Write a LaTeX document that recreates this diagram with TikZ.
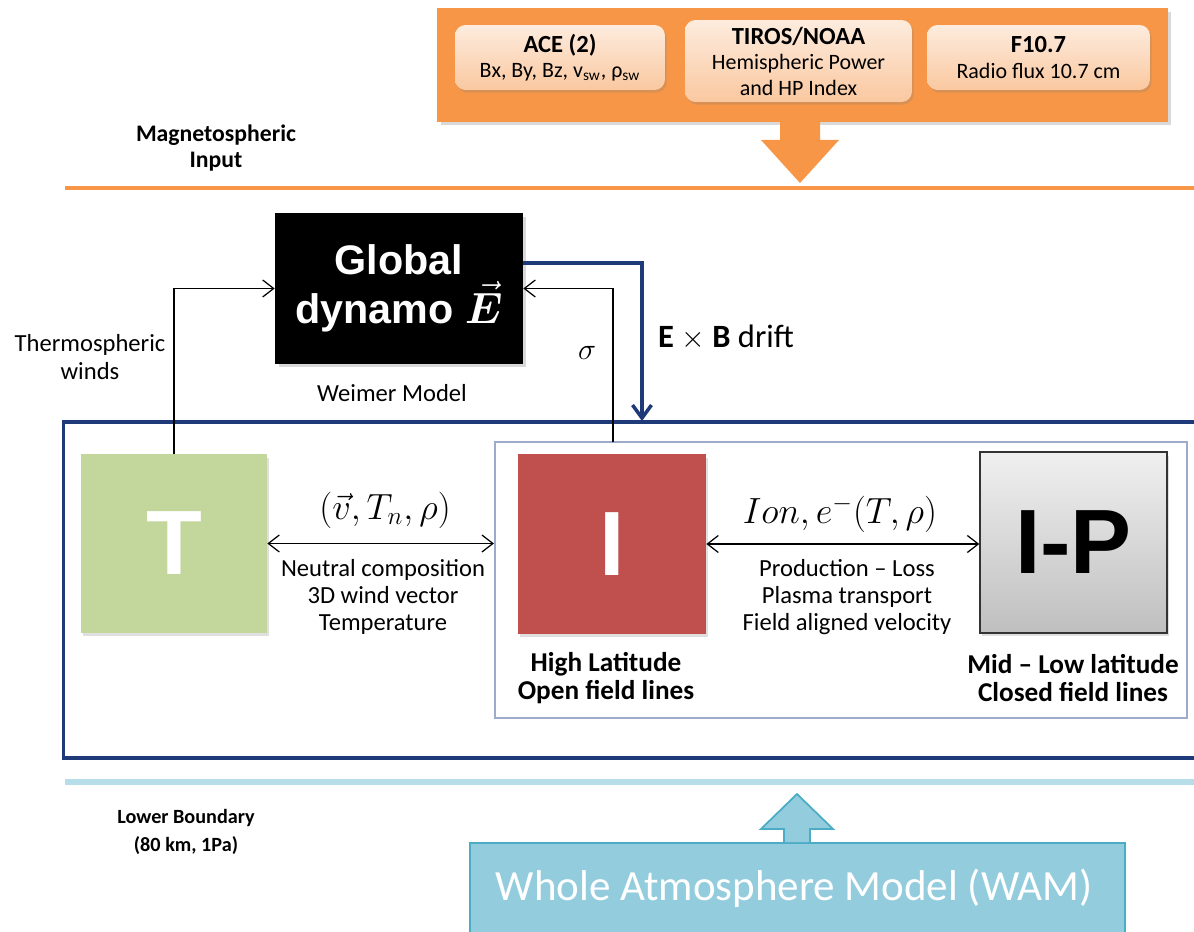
\documentclass[tikz,border=0pt]{standalone}
\usepackage{fontspec}
\usepackage{bm}
\setmainfont{Carlito}
\newfontfamily\arialfont{Liberation Sans}
\usetikzlibrary{arrows.meta,shadows}

\definecolor{orangeA}{HTML}{F79646}
\definecolor{peach}{HTML}{FAC8A0}
\definecolor{navyA}{HTML}{1F3A78}
\definecolor{frameB}{HTML}{9DAACB}
\definecolor{greenT}{HTML}{C3D69B}
\definecolor{redI}{HTML}{C0504D}
\definecolor{skyline}{HTML}{B7DDE8}
\definecolor{wamfill}{HTML}{93CDDD}
\definecolor{wamedge}{HTML}{4BACC6}

\tikzset{
  inbox/.style={rounded corners=6pt,top color=peach!35,bottom color=peach,align=center,font=\fontsize{12.5}{14.5}\selectfont,drop shadow={opacity=0.25,shadow xshift=1pt,shadow yshift=-1.5pt}},
  bigletter/.style={font=\arialfont\bfseries\fontsize{52}{52}\selectfont,inner sep=0pt},
  lbl/.style={align=center,font=\fontsize{14}{15.5}\selectfont},
  boldlbl/.style={align=center,font=\bfseries\fontsize{15.5}{15.5}\selectfont},
  link/.style={line width=0.7pt,-{Straight Barb[length=2.2mm,width=3.4mm]}},
  twoway/.style={line width=0.7pt,{Straight Barb[length=2.2mm,width=3.4mm]}-{Straight Barb[length=2.2mm,width=3.4mm]}}
}

\begin{document}
\begin{tikzpicture}[x=0.02cm,y=-0.02cm]
\useasboundingbox (0,0) rectangle (1194,932);
% magnetospheric input
\node[fill=orangeA,minimum width=14.62cm,minimum height=2.28cm,drop shadow={opacity=0.3,shadow xshift=2pt,shadow yshift=-2pt}] (mag) at (802.5,65) {};
\node[inbox,minimum width=4.2cm,minimum height=1.3cm] (ace) at (560,57.5) {\textbf{\fontsize{14}{15}\selectfont ACE (2)}\\Bx, By, Bz, v\textsubscript{sw}, ρ\textsubscript{sw}};
\node[inbox,minimum width=4.54cm,minimum height=1.64cm] (tiros) at (798.5,61) {\textbf{\fontsize{14}{15}\selectfont TIROS/NOAA}\\Hemispheric Power\\and HP Index};
\node[inbox,minimum width=4.46cm,minimum height=1.3cm] (f107) at (1038.5,57.5) {\textbf{\fontsize{14}{15}\selectfont F10.7}\\Radio flux 10.7 cm};
\fill[orangeA] (780,122)--(780,140)--(761,140)--(800,183)--(839,140)--(820,140)--(820,122)--cycle;
\draw[orangeA,line width=2.3pt] (65,188)--(1200,188);
\node[align=center,font=\bfseries\fontsize{13.5}{15}\selectfont] (magtxt) at (216,148) {Magnetospheric\\Input};

% dynamo
\node[fill=black,text=white,align=center,minimum width=4.96cm,minimum height=3.02cm,font=\arialfont\bfseries\fontsize{23.5}{28}\selectfont,drop shadow={opacity=0.3,shadow xshift=2pt,shadow yshift=-2pt}] (dyn) at (399,288.5) {Global\\dynamo $\vec{\bm{E}}$};
\node[lbl] (weimer) at (392,393) {Weimer\ Model};
\node[lbl] (winds) at (90,357) {Thermospheric\\winds};
\node[font=\fontsize{19}{19}\selectfont] (sig) at (587,353) {$\sigma$};
\node[anchor=west,font=\fontsize{18.5}{20}\selectfont] (exbtxt) at (652,337) {\textbf{E} $\times$ \textbf{B} drift};

% coupled model frames
\node[draw=navyA,line width=1.8pt,minimum width=22.74cm,minimum height=6.72cm] (outer) at (631.5,590) {};
\node[draw=frameB,line width=1.3pt,minimum width=13.84cm,minimum height=5.52cm] (ionframe) at (841,580) {};
\node[fill=greenT,text=white,bigletter,minimum width=3.72cm,minimum height=3.58cm,drop shadow={opacity=0.25,shadow xshift=1pt,shadow yshift=-2pt}] (T) at (174,543.5) {T};
\node[fill=redI,text=white,bigletter,minimum width=3.76cm,minimum height=3.6cm,drop shadow={opacity=0.25,shadow xshift=1pt,shadow yshift=-2pt}] (I) at (612,544) {I};
\node[draw=black!80,line width=0.8pt,top color=gray!12,bottom color=gray!50,bigletter,minimum width=3.74cm,minimum height=3.62cm,drop shadow={opacity=0.25,shadow xshift=1pt,shadow yshift=-2pt}] (IP) at (1073.5,542.5) {I-P};
\node[boldlbl] (hilat) at (606,678) {High Latitude\\Open field lines};
\node[boldlbl] (midlat) at (1073,678) {Mid -- Low latitude\\Closed field lines};

\coordinate (sg) at (613,442);
\coordinate (exb) at (642,421);
\draw[link] (T.north) |- (dyn.west);
\draw[link] (sg) |- (dyn.east);
\draw[navyA,line width=2pt,-{Straight Barb[length=2.6mm,width=3.8mm]}] ([yshift=0.51cm]dyn.east) -| (exb);
\draw[twoway] (T.east) -- (T.east -| ionframe.west);
\draw[twoway] (I.east) -- (I.east -| IP.west);
\node[font=\fontsize{20.5}{20.5}\selectfont] (tnlbl) at (385,510) {$(\vec{v},T_n,\rho)$};
\node[lbl] (tntxt) at (383,597) {Neutral composition\\3D wind vector\\Temperature};
\node[font=\fontsize{20}{20}\selectfont] (ionlbl) at (840,514) {$Ion,e^{-}(T,\rho)$};
\node[lbl] (iontxt) at (847,597) {Production -- Loss\\Plasma transport\\Field aligned velocity};

% lower boundary
\draw[skyline,line width=3pt] (65,782)--(1200,782);
\node[align=center,font=\bfseries\fontsize{11.5}{15.5}\selectfont] (lowtxt) at (186,832) {Lower Boundary\\(80 km, 1Pa)};
\node[fill=wamfill,draw=wamedge,line width=1pt,minimum width=13.1cm,minimum height=2cm,anchor=north] (wam) at (797.5,842) {};
\node[text=white,font=\fontsize{24.5}{24.5}\selectfont] (wamtxt) at (794,888) {Whole Atmosphere Model (WAM)};
\filldraw[fill=wamfill,draw=wamedge,line width=1pt] (784,842)--(784,829)--(761,829)--(797,794)--(833,829)--(810,829)--(810,842);
\end{tikzpicture}
\end{document}
